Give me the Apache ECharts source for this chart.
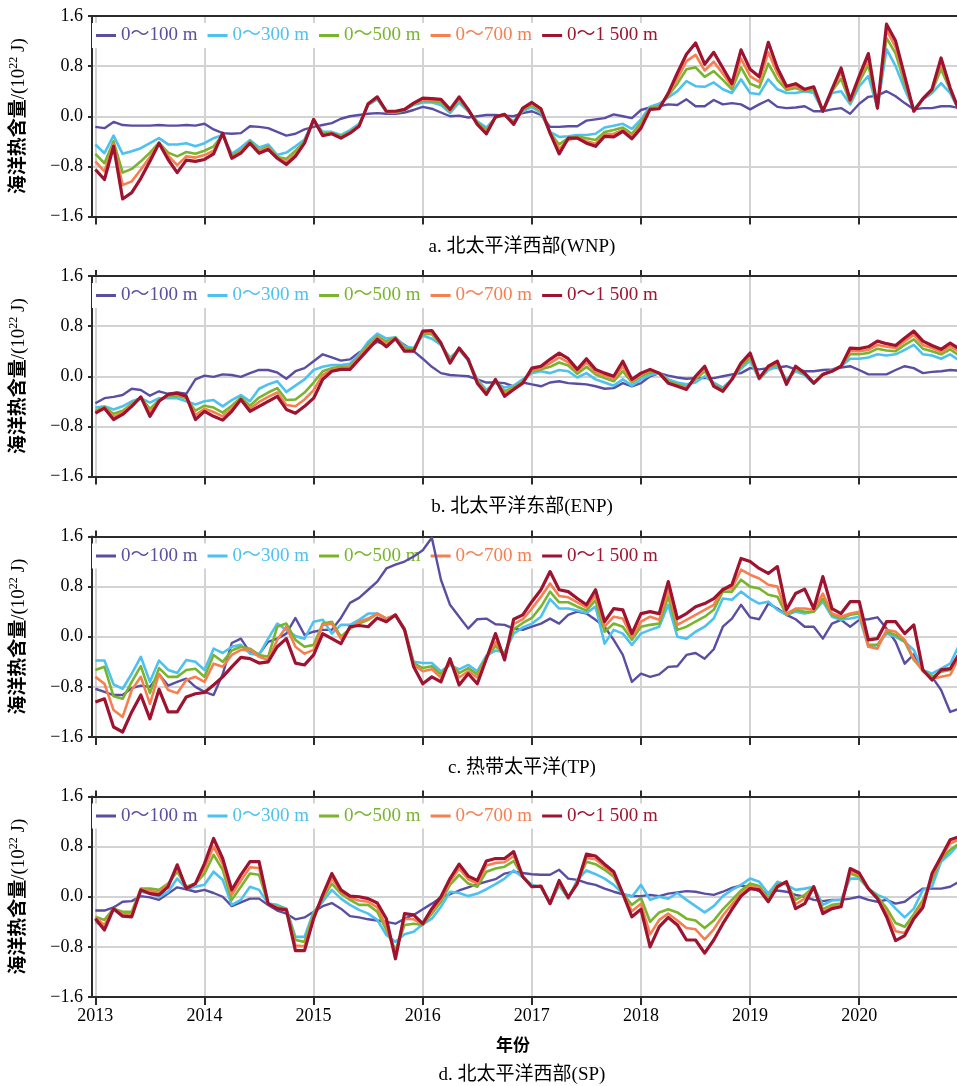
<!DOCTYPE html>
<html><head><meta charset="utf-8">
<script src="https://cdn.jsdelivr.net/npm/echarts@6/dist/echarts.min.js"></script>
<style>html,body{margin:0;padding:0;background:#fff}#c{width:957px;height:1086px}</style>
</head><body><div id="c"></div>
<script>
// ---------- data (monthly, Jan 2013 .. Dec 2020; index 0..95) ----------
const yearLabels = ['2013','2014','2015','2016','2017','2018','2019','2020'];
const seriesNames = ['0～100 m','0～300 m','0～500 m','0～700 m','0～1 500 m'];
const panelTitles = ['a. 北太平洋西部(WNP)','b. 北太平洋东部(ENP)','c. 热带太平洋(TP)','d. 北太平洋西部(SP)'];

const wnp100 = [-0.17,-0.19,-0.09,-0.14,-0.15,-0.15,-0.15,-0.14,-0.15,-0.15,-0.14,-0.15,
 -0.12,-0.21,-0.27,-0.28,-0.27,-0.16,-0.17,-0.19,-0.25,-0.31,-0.28,-0.21,
 -0.17,-0.14,-0.11,-0.04,0.00,0.02,0.04,0.05,0.04,0.04,0.06,0.10,
 0.15,0.12,0.06,0.00,0.01,-0.02,0.00,0.02,0.02,0.01,0.00,0.05,
 0.08,0.02,-0.17,-0.17,-0.16,-0.16,-0.07,-0.05,-0.03,0.03,0.00,-0.03,
 0.10,0.14,0.16,0.19,0.18,0.27,0.16,0.16,0.26,0.19,0.21,0.19,
 0.11,0.19,0.26,0.15,0.13,0.14,0.16,0.08,0.08,0.11,0.13,0.04,
 0.20,0.31,0.33,0.40,0.32,0.21,0.11,0.13,0.13,0.16,0.16,0.13];
const wnp300 = [-0.45,-0.59,-0.31,-0.60,-0.56,-0.51,-0.43,-0.35,-0.45,-0.45,-0.43,-0.48,
 -0.43,-0.35,-0.30,-0.60,-0.50,-0.38,-0.50,-0.45,-0.62,-0.58,-0.48,-0.37,
 -0.07,-0.25,-0.25,-0.30,-0.22,-0.12,0.18,0.27,0.07,0.06,0.10,0.18,
 0.22,0.22,0.18,0.05,0.22,0.08,-0.08,-0.18,-0.02,0.02,-0.08,0.08,
 0.15,0.05,-0.25,-0.33,-0.32,-0.30,-0.30,-0.28,-0.18,-0.15,-0.12,-0.20,
 -0.05,0.15,0.20,0.30,0.40,0.56,0.48,0.47,0.54,0.43,0.37,0.59,
 0.37,0.35,0.59,0.43,0.37,0.37,0.40,0.37,0.08,0.37,0.40,0.19,
 0.48,0.64,0.13,1.07,0.80,0.43,0.11,0.27,0.37,0.53,0.37,0.08];
const wnp500 = [-0.60,-0.75,-0.40,-0.90,-0.84,-0.72,-0.58,-0.42,-0.58,-0.64,-0.57,-0.60,
 -0.55,-0.48,-0.30,-0.63,-0.55,-0.40,-0.55,-0.48,-0.65,-0.68,-0.55,-0.40,
 -0.06,-0.28,-0.27,-0.32,-0.25,-0.14,0.19,0.29,0.07,0.06,0.10,0.19,
 0.25,0.24,0.22,0.08,0.27,0.09,-0.10,-0.22,-0.02,0.02,-0.10,0.10,
 0.18,0.08,-0.26,-0.45,-0.35,-0.32,-0.35,-0.38,-0.25,-0.22,-0.18,-0.28,
 -0.10,0.13,0.16,0.33,0.52,0.75,0.78,0.63,0.72,0.58,0.43,0.78,
 0.52,0.46,0.84,0.58,0.42,0.45,0.40,0.42,0.08,0.40,0.60,0.22,
 0.55,0.82,0.13,1.25,1.00,0.52,0.10,0.27,0.40,0.75,0.42,0.08];
const wnp700 = [-0.72,-0.88,-0.44,-1.10,-1.04,-0.85,-0.65,-0.43,-0.63,-0.78,-0.64,-0.66,
 -0.62,-0.55,-0.29,-0.65,-0.57,-0.42,-0.57,-0.50,-0.66,-0.73,-0.60,-0.42,
 -0.05,-0.30,-0.27,-0.34,-0.26,-0.15,0.20,0.30,0.08,0.07,0.11,0.20,
 0.27,0.26,0.25,0.10,0.29,0.10,-0.12,-0.25,-0.01,0.03,-0.12,0.12,
 0.20,0.10,-0.27,-0.52,-0.38,-0.34,-0.40,-0.44,-0.29,-0.28,-0.22,-0.32,
 -0.15,0.12,0.14,0.35,0.60,0.88,0.98,0.73,0.87,0.68,0.48,0.92,
 0.64,0.55,1.02,0.68,0.45,0.48,0.42,0.45,0.08,0.42,0.70,0.24,
 0.60,0.92,0.13,1.38,1.10,0.58,0.09,0.28,0.42,0.85,0.44,0.08];
const wnp1500 = [-0.85,-1.01,-0.48,-1.32,-1.22,-0.99,-0.72,-0.43,-0.69,-0.90,-0.70,-0.72,
 -0.69,-0.60,-0.27,-0.67,-0.59,-0.43,-0.59,-0.53,-0.67,-0.77,-0.64,-0.43,
 -0.05,-0.31,-0.28,-0.35,-0.27,-0.16,0.20,0.31,0.08,0.08,0.11,0.21,
 0.29,0.28,0.27,0.11,0.31,0.11,-0.13,-0.28,-0.01,0.03,-0.13,0.13,
 0.22,0.12,-0.27,-0.60,-0.35,-0.35,-0.43,-0.48,-0.32,-0.33,-0.24,-0.36,
 -0.19,0.11,0.12,0.37,0.69,0.99,1.17,0.83,1.02,0.77,0.52,1.06,
 0.75,0.63,1.18,0.77,0.48,0.52,0.43,0.47,0.08,0.43,0.77,0.26,
 0.64,1.00,0.13,1.47,1.20,0.64,0.08,0.28,0.43,0.93,0.45,0.08];

const enp100 = [-0.43,-0.35,-0.33,-0.30,-0.20,-0.22,-0.31,-0.24,-0.28,-0.26,-0.28,-0.05,
 0.01,-0.01,0.03,0.02,-0.01,0.05,0.10,0.10,0.06,-0.04,0.08,0.13,
 0.24,0.35,0.30,0.25,0.27,0.38,0.45,0.55,0.50,0.60,0.50,0.40,
 0.28,0.15,0.05,0.02,0.01,0.00,-0.05,-0.10,-0.10,-0.11,-0.16,-0.10,
 -0.13,-0.16,-0.10,-0.08,-0.11,-0.12,-0.13,-0.16,-0.20,-0.19,-0.11,-0.16,
 -0.11,0.00,0.05,0.01,-0.02,-0.04,-0.03,-0.03,-0.03,0.00,0.03,0.05,
 0.13,0.11,0.13,0.14,0.16,0.11,0.08,0.08,0.10,0.11,0.14,0.16,
 0.10,0.03,0.03,0.03,0.10,0.16,0.13,0.05,0.07,0.08,0.10,0.09];
const enp300 = [-0.50,-0.48,-0.53,-0.48,-0.40,-0.35,-0.42,-0.35,-0.35,-0.35,-0.40,-0.45,
 -0.40,-0.38,-0.48,-0.38,-0.30,-0.40,-0.20,-0.13,-0.08,-0.25,-0.15,-0.05,
 0.10,0.15,0.18,0.18,0.20,0.35,0.55,0.68,0.60,0.62,0.48,0.45,
 0.65,0.60,0.50,0.30,0.42,0.25,-0.05,-0.22,-0.10,-0.18,-0.15,-0.05,
 0.05,0.08,0.05,0.10,0.08,-0.02,0.05,-0.05,-0.10,-0.15,-0.05,-0.15,
 -0.05,0.02,0.05,-0.05,-0.10,-0.13,-0.10,0.00,-0.10,-0.18,-0.05,0.12,
 0.25,-0.05,0.10,0.15,-0.05,0.08,0.02,-0.12,0.02,0.10,0.16,0.28,
 0.28,0.30,0.35,0.33,0.35,0.42,0.50,0.35,0.33,0.28,0.35,0.25];
const enp500 = [-0.55,-0.49,-0.60,-0.55,-0.44,-0.34,-0.52,-0.38,-0.32,-0.31,-0.35,-0.55,
 -0.47,-0.50,-0.58,-0.47,-0.34,-0.47,-0.34,-0.26,-0.19,-0.38,-0.37,-0.26,
 -0.10,0.08,0.13,0.15,0.16,0.32,0.50,0.64,0.55,0.62,0.45,0.43,
 0.68,0.67,0.52,0.26,0.44,0.26,-0.07,-0.25,-0.08,-0.24,-0.18,-0.08,
 0.08,0.11,0.15,0.22,0.17,0.04,0.15,0.03,-0.03,-0.08,0.08,-0.10,
 0.00,0.06,0.05,-0.08,-0.13,-0.17,-0.05,0.08,-0.13,-0.21,-0.05,0.16,
 0.30,-0.04,0.13,0.19,-0.09,0.12,0.03,-0.11,0.03,0.09,0.16,0.35,
 0.35,0.37,0.44,0.41,0.40,0.50,0.59,0.44,0.40,0.35,0.43,0.33];
const enp700 = [-0.57,-0.50,-0.65,-0.58,-0.46,-0.33,-0.58,-0.39,-0.30,-0.29,-0.33,-0.62,
 -0.52,-0.57,-0.64,-0.52,-0.36,-0.52,-0.41,-0.33,-0.26,-0.46,-0.48,-0.37,
 -0.22,0.02,0.10,0.13,0.14,0.30,0.47,0.62,0.51,0.61,0.42,0.41,
 0.70,0.70,0.53,0.23,0.45,0.27,-0.09,-0.27,-0.06,-0.28,-0.20,-0.10,
 0.10,0.13,0.21,0.30,0.22,0.08,0.22,0.07,0.01,-0.04,0.16,-0.08,
 0.03,0.09,0.05,-0.10,-0.15,-0.19,-0.02,0.12,-0.15,-0.23,-0.05,0.19,
 0.34,-0.04,0.15,0.22,-0.11,0.14,0.04,-0.11,0.03,0.08,0.16,0.40,
 0.40,0.42,0.50,0.47,0.45,0.56,0.66,0.50,0.45,0.39,0.48,0.39];
const enp1500 = [-0.59,-0.51,-0.69,-0.61,-0.48,-0.33,-0.64,-0.40,-0.29,-0.27,-0.32,-0.69,
 -0.56,-0.64,-0.70,-0.56,-0.37,-0.56,-0.48,-0.40,-0.32,-0.53,-0.59,-0.48,
 -0.35,-0.05,0.08,0.11,0.11,0.27,0.43,0.59,0.47,0.60,0.40,0.40,
 0.72,0.73,0.53,0.21,0.45,0.27,-0.11,-0.29,-0.05,-0.32,-0.21,-0.11,
 0.13,0.16,0.27,0.37,0.28,0.11,0.28,0.11,0.05,0.00,0.24,-0.05,
 0.05,0.11,0.05,-0.11,-0.16,-0.21,0.00,0.16,-0.16,-0.24,-0.05,0.21,
 0.37,-0.03,0.16,0.24,-0.13,0.16,0.05,-0.11,0.03,0.08,0.16,0.45,
 0.44,0.47,0.56,0.52,0.49,0.61,0.72,0.56,0.49,0.43,0.53,0.44];

const tp100 = [-0.83,-0.88,-0.93,-0.93,-0.82,-0.78,-0.80,-0.60,-0.78,-0.72,-0.67,-0.80,
 -0.88,-0.93,-0.60,-0.10,-0.03,-0.25,-0.28,-0.08,-0.03,0.05,0.30,0.03,
 0.08,0.11,0.11,0.30,0.54,0.62,0.75,0.88,1.09,1.15,1.20,1.28,
 1.38,1.58,0.91,0.51,0.32,0.13,0.28,0.29,0.20,0.19,0.13,0.11,
 0.16,0.21,0.29,0.21,0.35,0.40,0.37,0.27,0.16,-0.05,-0.29,-0.72,
 -0.59,-0.64,-0.60,-0.48,-0.47,-0.29,-0.26,-0.35,-0.20,0.16,0.29,0.51,
 0.31,0.28,0.53,0.45,0.35,0.28,0.16,0.16,-0.03,0.21,0.27,0.16,
 0.27,0.28,0.31,0.13,-0.08,-0.43,-0.28,-0.53,-0.64,-0.85,-1.20,-1.15];
const tp300 = [-0.38,-0.38,-0.76,-0.83,-0.59,-0.32,-0.72,-0.38,-0.53,-0.58,-0.37,-0.40,
 -0.53,-0.19,-0.26,-0.16,-0.13,-0.27,-0.29,-0.03,0.21,0.11,0.01,-0.03,
 0.24,0.27,0.05,0.19,0.19,0.27,0.37,0.37,0.29,0.33,0.12,-0.40,
 -0.42,-0.42,-0.55,-0.45,-0.52,-0.45,-0.55,-0.30,-0.22,-0.25,0.05,0.15,
 0.21,0.32,0.60,0.45,0.45,0.42,0.38,0.48,-0.11,0.11,0.05,-0.13,
 0.05,0.11,0.16,0.51,0.00,-0.03,0.08,0.16,0.29,0.61,0.59,0.72,
 0.61,0.53,0.56,0.43,0.35,0.40,0.37,0.40,0.56,0.32,0.27,0.29,
 0.32,-0.16,-0.13,0.05,0.00,-0.08,-0.21,-0.53,-0.59,-0.51,-0.43,-0.13];
const tp500 = [-0.53,-0.48,-0.95,-0.99,-0.72,-0.47,-0.90,-0.50,-0.64,-0.64,-0.53,-0.51,
 -0.64,-0.29,-0.40,-0.22,-0.16,-0.19,-0.29,-0.32,0.16,0.21,-0.05,-0.16,
 -0.13,0.21,0.24,0.00,0.13,0.21,0.27,0.37,0.29,0.34,0.13,-0.42,
 -0.50,-0.47,-0.60,-0.42,-0.58,-0.50,-0.60,-0.32,-0.15,-0.28,0.12,0.22,
 0.30,0.48,0.72,0.55,0.55,0.48,0.42,0.58,0.08,0.21,0.16,-0.05,
 0.16,0.19,0.21,0.64,0.11,0.16,0.24,0.32,0.43,0.72,0.72,0.91,
 0.80,0.77,0.67,0.64,0.35,0.43,0.40,0.40,0.61,0.35,0.29,0.35,
 0.37,-0.13,-0.13,0.08,0.03,-0.08,-0.37,-0.53,-0.64,-0.56,-0.53,-0.27];
const tp700 = [-0.64,-0.75,-1.17,-1.28,-0.85,-0.64,-1.07,-0.59,-0.85,-0.90,-0.69,-0.64,
 -0.72,-0.43,-0.48,-0.29,-0.21,-0.21,-0.32,-0.37,-0.05,0.16,-0.16,-0.27,
 -0.21,0.19,0.21,-0.03,0.13,0.24,0.29,0.37,0.29,0.35,0.12,-0.45,
 -0.55,-0.52,-0.65,-0.40,-0.65,-0.55,-0.65,-0.34,-0.08,-0.31,0.20,0.28,
 0.45,0.64,0.85,0.65,0.63,0.55,0.47,0.66,0.16,0.32,0.29,0.00,
 0.24,0.32,0.27,0.75,0.19,0.27,0.35,0.43,0.51,0.77,0.77,1.07,
 0.99,0.93,0.83,0.80,0.37,0.45,0.45,0.43,0.69,0.37,0.32,0.37,
 0.40,-0.16,-0.19,0.11,0.08,-0.05,-0.35,-0.55,-0.67,-0.64,-0.61,-0.32];
const tp1500 = [-1.04,-0.99,-1.44,-1.52,-1.20,-0.93,-1.31,-0.84,-1.20,-1.20,-0.96,-0.91,
 -0.89,-0.77,-0.64,-0.48,-0.33,-0.35,-0.42,-0.40,-0.16,-0.03,-0.42,-0.45,
 -0.29,0.05,-0.03,-0.11,0.16,0.18,0.16,0.30,0.24,0.35,0.11,-0.48,
 -0.75,-0.64,-0.72,-0.35,-0.77,-0.59,-0.75,-0.35,0.05,-0.37,0.28,0.35,
 0.56,0.75,1.04,0.75,0.72,0.61,0.51,0.75,0.24,0.45,0.43,0.05,
 0.37,0.40,0.37,0.88,0.29,0.37,0.48,0.53,0.61,0.75,0.83,1.25,
 1.20,1.09,1.01,1.12,0.43,0.69,0.76,0.45,0.96,0.45,0.37,0.56,
 0.56,-0.05,-0.03,0.24,0.24,0.05,0.19,-0.53,-0.69,-0.53,-0.51,-0.27];

const sp100 = [-0.22,-0.22,-0.17,-0.08,-0.07,0.01,-0.01,-0.05,0.05,0.15,0.12,0.08,
 0.11,0.06,0.00,-0.15,-0.09,-0.03,-0.03,-0.13,-0.22,-0.27,-0.36,-0.33,
 -0.24,-0.15,-0.10,-0.19,-0.31,-0.33,-0.36,-0.38,-0.40,-0.43,-0.35,-0.29,
 -0.20,-0.11,-0.01,0.04,0.10,0.15,0.20,0.24,0.28,0.37,0.40,0.38,
 0.36,0.35,0.35,0.43,0.29,0.27,0.22,0.19,0.13,0.08,0.04,0.01,
 0.01,0.03,0.01,0.05,0.07,0.09,0.08,0.05,0.03,0.08,0.14,0.18,
 0.15,0.09,0.06,0.10,0.08,0.03,0.00,-0.05,-0.07,-0.05,-0.05,-0.03,
 0.00,-0.05,-0.08,-0.05,-0.11,-0.08,0.03,0.13,0.13,0.13,0.16,0.24];
const sp300 = [-0.40,-0.48,-0.19,-0.27,-0.27,0.08,0.05,0.00,0.08,0.29,0.13,0.16,
 0.19,0.40,0.27,-0.13,-0.05,0.16,0.11,-0.11,-0.13,-0.19,-0.64,-0.64,
 -0.24,-0.08,0.11,-0.03,-0.13,-0.21,-0.27,-0.37,-0.61,-0.72,-0.60,-0.56,
 -0.44,-0.35,-0.16,0.08,0.06,0.01,0.05,0.12,0.20,0.29,0.42,0.31,
 0.19,0.15,-0.11,0.18,-0.03,0.27,0.42,0.36,0.29,0.19,0.05,0.00,
 0.19,-0.05,0.00,-0.03,0.06,-0.05,-0.15,-0.25,-0.15,0.01,0.11,0.19,
 0.29,0.24,0.05,0.24,0.19,0.11,0.13,0.16,-0.13,-0.06,-0.05,0.29,
 0.29,0.13,0.03,-0.03,-0.19,-0.33,-0.19,0.11,0.16,0.56,0.69,0.85];
const sp500 = [-0.32,-0.37,-0.19,-0.24,-0.24,0.13,0.13,0.11,0.21,0.40,0.16,0.21,
 0.37,0.67,0.43,-0.05,0.16,0.37,0.35,-0.11,-0.16,-0.19,-0.69,-0.72,
 -0.27,-0.03,0.21,0.05,-0.05,-0.13,-0.13,-0.24,-0.53,-0.85,-0.45,-0.43,
 -0.45,-0.27,-0.08,0.19,0.35,0.21,0.16,0.40,0.45,0.48,0.57,0.32,
 0.16,0.16,-0.11,0.21,-0.02,0.24,0.56,0.52,0.43,0.32,0.05,-0.13,
 -0.02,-0.40,-0.25,-0.20,-0.25,-0.35,-0.38,-0.50,-0.38,-0.20,-0.05,0.10,
 0.21,0.17,-0.02,0.20,0.22,-0.05,0.03,0.16,-0.20,-0.13,-0.11,0.37,
 0.32,0.13,0.00,-0.18,-0.42,-0.48,-0.28,-0.05,0.27,0.60,0.75,0.85];
const sp700 = [-0.33,-0.45,-0.19,-0.28,-0.28,0.12,0.09,0.07,0.19,0.46,0.15,0.21,
 0.45,0.80,0.52,0.03,0.26,0.47,0.46,-0.11,-0.17,-0.20,-0.78,-0.79,
 -0.31,0.00,0.29,0.08,-0.02,-0.06,-0.08,-0.17,-0.47,-0.92,-0.35,-0.36,
 -0.44,-0.23,-0.04,0.24,0.45,0.28,0.21,0.50,0.54,0.55,0.65,0.32,
 0.16,0.17,-0.11,0.24,-0.01,0.23,0.62,0.60,0.48,0.36,0.05,-0.23,
 -0.11,-0.60,-0.37,-0.27,-0.38,-0.50,-0.52,-0.68,-0.52,-0.30,-0.12,0.05,
 0.17,0.14,-0.05,0.18,0.23,-0.12,-0.03,0.16,-0.24,-0.16,-0.14,0.42,
 0.35,0.13,-0.02,-0.25,-0.55,-0.58,-0.32,-0.10,0.32,0.62,0.85,0.92];
const sp1500 = [-0.35,-0.53,-0.19,-0.31,-0.32,0.11,0.05,0.03,0.16,0.51,0.13,0.21,
 0.53,0.93,0.61,0.11,0.35,0.56,0.56,-0.11,-0.19,-0.21,-0.86,-0.86,
 -0.35,0.03,0.37,0.11,0.01,0.00,-0.03,-0.10,-0.35,-0.99,-0.27,-0.29,
 -0.43,-0.19,0.00,0.29,0.52,0.33,0.26,0.57,0.61,0.61,0.72,0.32,
 0.16,0.17,-0.11,0.26,-0.01,0.21,0.68,0.65,0.52,0.40,0.05,-0.32,
 -0.20,-0.80,-0.48,-0.33,-0.45,-0.69,-0.69,-0.90,-0.69,-0.43,-0.20,0.01,
 0.13,0.11,-0.08,0.16,0.24,-0.19,-0.11,0.16,-0.27,-0.19,-0.16,0.45,
 0.38,0.13,-0.03,-0.32,-0.70,-0.62,-0.35,-0.17,0.37,0.64,0.91,0.96];

const panelData = [
  [wnp100, wnp300, wnp500, wnp700, wnp1500],
  [enp100, enp300, enp500, enp700, enp1500],
  [tp100, tp300, tp500, tp700, tp1500],
  [sp100, sp300, sp500, sp700, sp1500]
];

// ---------- styling ----------
const colors = ['#5a4ea2', '#4dc1ef', '#78b52c', '#f77f4f', '#9d1330'];
const widths = [2.4, 2.6, 2.6, 2.6, 3.2];
const SERIF = "'Liberation Serif','Times New Roman','Noto Sans CJK SC',serif";
const tops = [16, 276, 536.5, 796.5];
const H = 200.5;
const tickVals = yearLabels.map((_, i) => i * 12);
const axisDark = '#2b2b2b';
const gridGray = '#d3d3d3';

const grids = tops.map(t => ({ left: 88, right: 0, top: t, height: H }));
const xAxes = [];
tops.forEach((t, i) => {
  xAxes.push({
    gridIndex: i, type: 'value', min: -0.37, max: 94.75, position: 'bottom',
    axisLine: { show: true, onZero: false, lineStyle: { color: axisDark, width: 2 } },
    axisTick: { show: true, customValues: tickVals, length: 8, lineStyle: { color: axisDark, width: 2 } },
    axisLabel: { show: i === 3, customValues: tickVals, margin: 10,
      formatter: v => yearLabels[Math.round(v / 12)] || '',
      color: '#000', fontSize: 18, fontFamily: SERIF },
    splitLine: { show: true, lineStyle: { color: gridGray, width: 2 } }
  });
});
tops.forEach((t, i) => {
  xAxes.push({
    gridIndex: i, type: 'value', min: -0.37, max: 94.75, position: 'top',
    axisLine: { show: true, onZero: false, lineStyle: { color: axisDark, width: 2 } },
    axisTick: { show: i > 0, customValues: tickVals, length: 6, lineStyle: { color: axisDark, width: 2 } },
    axisLabel: { show: false },
    splitLine: { show: false }
  });
});
const yAxes = tops.map((t, i) => ({
  gridIndex: i, type: 'value', min: -1.6, max: 1.6, interval: 0.8,
  axisLine: { show: true, onZero: false, lineStyle: { color: axisDark, width: 2 } },
  axisTick: { show: true, length: 4, lineStyle: { color: axisDark, width: 2 } },
  axisLabel: { color: '#000', fontSize: 18, fontFamily: SERIF, margin: 9,
    formatter: v => { const a = Math.abs(v) < 1e-9 ? 0 : v; return (a < 0 ? '−' : '') + Math.abs(a).toFixed(1); } },
  splitLine: { show: true, lineStyle: { color: gridGray, width: 2 } },
  name: '{b|海洋热含量}{a|/(10}{s|22}{a| J)}',
  nameLocation: 'middle', nameRotate: 90, nameGap: 62,
  nameTextStyle: {
    rich: {
      b: { fontSize: 19, fontWeight: 'bold', fontFamily: SERIF, color: '#000', lineHeight: 22 },
      a: { fontSize: 19, fontFamily: SERIF, color: '#000', lineHeight: 22 },
      s: { fontSize: 12, fontFamily: SERIF, color: '#000', verticalAlign: 'top', lineHeight: 22 }
    }
  }
}));

const legends = tops.map(t => ({
  top: t + 7, left: 92, orient: 'horizontal', icon: 'rect',
  itemWidth: 20, itemHeight: 3, itemGap: 10, z: 1,
  backgroundColor: '#fff', padding: [3, 4],
  selectedMode: false,
  textStyle: { fontSize: 19, fontFamily: SERIF },
  data: seriesNames.map((n, k) => ({ name: n, textStyle: { color: colors[k] } }))
}));

const series = [];
panelData.forEach((arrs, i) => {
  arrs.forEach((arr, k) => {
    series.push({
      type: 'line', name: seriesNames[k], xAxisIndex: i, yAxisIndex: i,
      data: arr.map((v, m) => [m, v]),
      showSymbol: false, symbol: 'none', clip: true, z: 2 + k * 0.1,
      lineStyle: { color: colors[k], width: widths[k], join: 'round' },
      itemStyle: { color: colors[k] },
      emphasis: { disabled: true }
    });
  });
});

const titleY = [247, 507, 768, 1075];
const graphic = titleY.map((y, i) => ({
  type: 'text', x: 522, y: y, silent: true,
  style: { text: panelTitles[i], align: 'center', verticalAlign: 'middle', textAlign: 'center', textVerticalAlign: 'middle',
    font: "19px " + SERIF, fill: '#000' }
}));
graphic.push({
  type: 'text', x: 513, y: 1047, silent: true,
  style: { text: '年份', align: 'center', verticalAlign: 'middle', textAlign: 'center', textVerticalAlign: 'middle',
    font: "bold 17px " + SERIF, fill: '#000' }
});

const chart = echarts.init(document.getElementById('c'), null, { renderer: 'canvas' });
chart.setOption({
  animation: false,
  backgroundColor: '#fff',
  grid: grids,
  xAxis: xAxes,
  yAxis: yAxes,
  legend: legends,
  series: series,
  graphic: graphic
});
</script>
</body></html>
